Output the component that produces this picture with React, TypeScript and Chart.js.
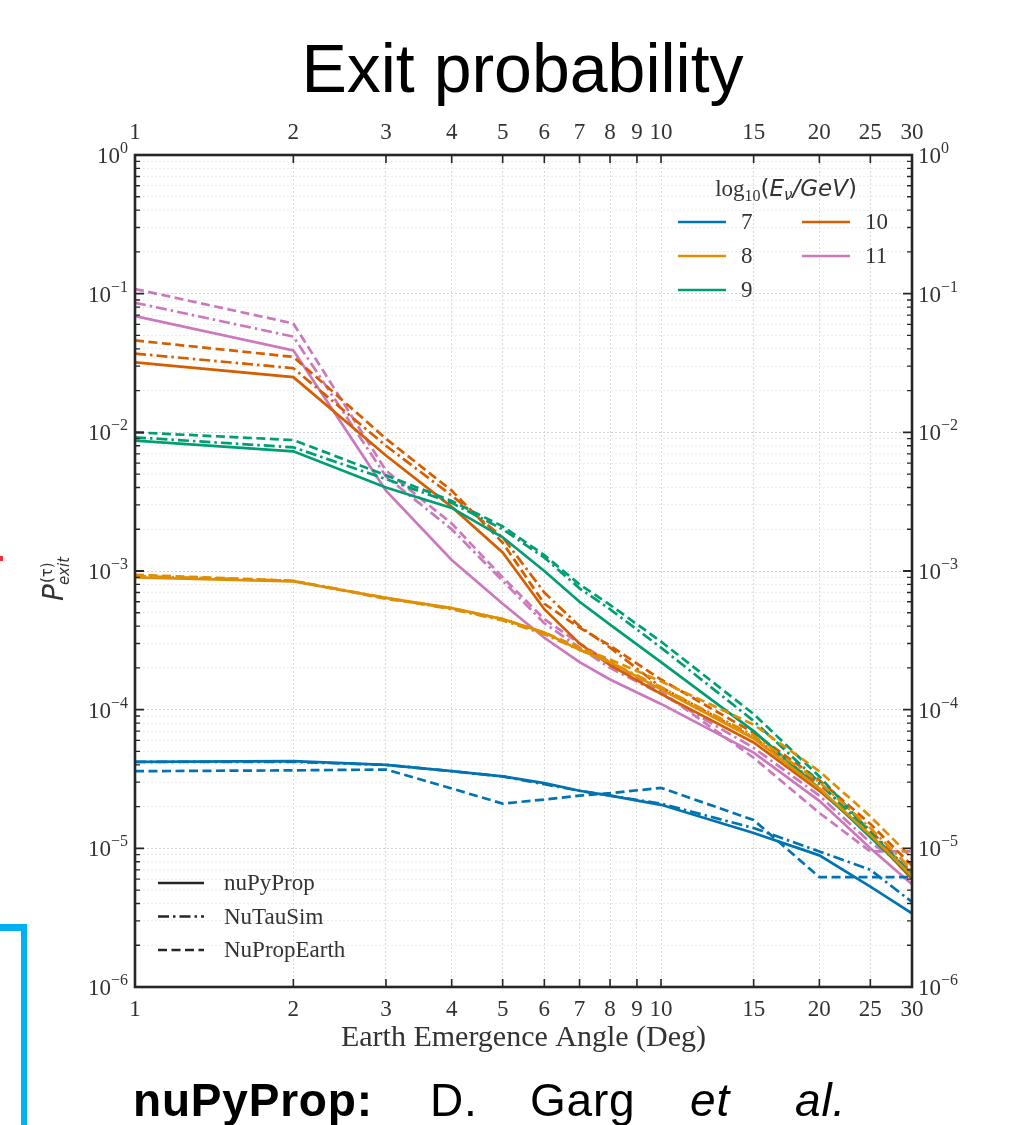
import React, { useEffect, useRef } from 'react';
import { Chart, registerables } from 'chart.js';

Chart.register(...registerables);

// ---------- data ----------
const angles = [1, 2, 3, 4, 5, 6, 7, 8, 10, 15, 20, 25, 30];
const energyLabels = ['7', '8', '9', '10', '11'];
const modelLabels = ['nuPyProp', 'NuTauSim', 'NuPropEarth'];
const xTickValues = [1, 2, 3, 4, 5, 6, 7, 8, 9, 10, 15, 20, 25, 30];
const yDecadeExponents = [0, -1, -2, -3, -4, -5, -6];

// log10(E/GeV) = 7
const nuPyProp7 = [4.2e-5, 4.25e-5, 4.0e-5, 3.6e-5, 3.3e-5, 2.95e-5, 2.6e-5, 2.4e-5, 2.06e-5, 1.29e-5, 8.9e-6, 5.3e-6, 3.4e-6];
const nuTauSim7 = [4.2e-5, 4.2e-5, 4.0e-5, 3.6e-5, 3.3e-5, 2.9e-5, 2.6e-5, 2.4e-5, 2.1e-5, 1.4e-5, 9.5e-6, 7.0e-6, 4.1e-6];
const nuPropEarth7 = [3.6e-5, 3.65e-5, 3.7e-5, 2.7e-5, 2.1e-5, 2.25e-5, 2.4e-5, 2.5e-5, 2.73e-5, 1.6e-5, 6.2e-6, 6.2e-6, 6.2e-6];
// 8
const nuPyProp8 = [9.0e-4, 8.4e-4, 6.4e-4, 5.4e-4, 4.5e-4, 3.6e-4, 2.7e-4, 2.2e-4, 1.4e-4, 6.2e-5, 2.7e-5, 1.25e-5, 6.3e-6];
const nuTauSim8 = [9.2e-4, 8.5e-4, 6.4e-4, 5.3e-4, 4.4e-4, 3.5e-4, 2.7e-4, 2.2e-4, 1.45e-4, 6.5e-5, 3.0e-5, 1.4e-5, 7.0e-6];
const nuPropEarth8 = [9.4e-4, 8.5e-4, 6.3e-4, 5.4e-4, 4.5e-4, 3.6e-4, 2.8e-4, 2.3e-4, 1.6e-4, 7.8e-5, 3.6e-5, 1.7e-5, 8.5e-6];
// 9
const nuPyProp9 = [8.7e-3, 7.3e-3, 4.0e-3, 2.85e-3, 1.75e-3, 1.0e-3, 6.0e-4, 4.1e-4, 2.2e-4, 7.0e-5, 2.7e-5, 1.2e-5, 6.3e-6];
const nuTauSim9 = [9.2e-3, 7.8e-3, 4.6e-3, 3.1e-3, 2.0e-3, 1.25e-3, 7.5e-4, 5.3e-4, 2.8e-4, 8.3e-5, 3.0e-5, 1.25e-5, 6.3e-6];
const nuPropEarth9 = [1.0e-2, 8.8e-3, 4.9e-3, 3.2e-3, 2.1e-3, 1.3e-3, 8.0e-4, 5.7e-4, 3.1e-4, 9.3e-5, 3.3e-5, 1.3e-5, 6.5e-6];
// 10
const nuPyProp10 = [3.2e-2, 2.5e-2, 6.8e-3, 2.9e-3, 1.36e-3, 5.3e-4, 3.0e-4, 2.1e-4, 1.3e-4, 5.8e-5, 2.6e-5, 1.25e-5, 6.0e-6];
const nuTauSim10 = [3.7e-2, 2.9e-2, 8.0e-3, 3.5e-3, 1.75e-3, 7.0e-4, 4.0e-4, 2.8e-4, 1.45e-4, 6.3e-5, 2.9e-5, 1.35e-5, 6.5e-6];
const nuPropEarth10 = [4.6e-2, 3.5e-2, 9.0e-3, 3.8e-3, 1.6e-3, 5.8e-4, 3.9e-4, 2.9e-4, 1.65e-4, 6.8e-5, 3.1e-5, 1.5e-5, 7.5e-6];
// 11
const nuPyProp11 = [6.9e-2, 3.9e-2, 3.8e-3, 1.2e-3, 5.8e-4, 3.3e-4, 2.2e-4, 1.65e-4, 1.1e-4, 4.9e-5, 2.2e-5, 1.0e-5, 5.5e-6];
const nuTauSim11 = [8.6e-2, 4.9e-2, 4.8e-3, 2.0e-3, 8.5e-4, 4.2e-4, 2.8e-4, 2.0e-4, 1.3e-4, 5.3e-5, 2.4e-5, 1.1e-5, 7.0e-6];
const nuPropEarth11 = [1.08e-1, 6.1e-2, 5.3e-3, 2.2e-3, 9.0e-4, 4.5e-4, 3.0e-4, 2.2e-4, 1.35e-4, 4.5e-5, 1.8e-5, 9.5e-6, 9.5e-6];

const seriesByEnergy = [
  [nuPyProp7, nuTauSim7, nuPropEarth7],
  [nuPyProp8, nuTauSim8, nuPropEarth8],
  [nuPyProp9, nuTauSim9, nuPropEarth9],
  [nuPyProp10, nuTauSim10, nuPropEarth10],
  [nuPyProp11, nuTauSim11, nuPropEarth11],
];

// ---------- styles ----------
const energyColors = ['#0173B2', '#DE8F05', '#029E73', '#D55E00', '#CC78BC'];
const modelDashes = [[], [11, 4, 2.5, 4], [9, 4.5]];
const SERIF = '"Liberation Serif", "Times New Roman", serif';
const SANS = '"DejaVu Sans", sans-serif';
const INK = '#262626';

function drawPieces(ctx: CanvasRenderingContext2D, pieces: any[], x: number, baseline: number, align: string) {
  let total = 0;
  pieces.forEach((p) => { ctx.font = p.font; total += ctx.measureText(p.text).width; });
  let xx = align === 'center' ? x - total / 2 : align === 'right' ? x - total : x;
  ctx.textAlign = 'left';
  ctx.textBaseline = 'alphabetic';
  pieces.forEach((p) => {
    ctx.font = p.font;
    ctx.fillText(p.text, xx, baseline + (p.dy || 0));
    xx += ctx.measureText(p.text).width;
  });
}

const decorPlugin = {
  id: 'decor',
  afterDraw(chart: any) {
    const { ctx, chartArea, scales } = chart;
    const { left, right, top, bottom } = chartArea;
    const xs = scales.x;
    const ys = scales.y;
    ctx.save();
    ctx.strokeStyle = INK;
    ctx.fillStyle = INK;

    // ticks (inward)
    ctx.lineWidth = 1.6;
    xTickValues.forEach((v) => {
      const px = xs.getPixelForValue(v);
      ctx.beginPath();
      ctx.moveTo(px, bottom); ctx.lineTo(px, bottom - 8);
      ctx.moveTo(px, top); ctx.lineTo(px, top + 8);
      ctx.stroke();
    });
    yDecadeExponents.forEach((e) => {
      for (let m = 1; m <= 9; m++) {
        if (e === 0 && m > 1) continue;
        const py = ys.getPixelForValue(m * Math.pow(10, e));
        const len = m === 1 ? 9 : 5;
        ctx.lineWidth = m === 1 ? 1.8 : 1.3;
        ctx.beginPath();
        ctx.moveTo(left, py); ctx.lineTo(left + len, py);
        ctx.moveTo(right, py); ctx.lineTo(right - len, py);
        ctx.stroke();
      }
    });

    // frame
    ctx.lineWidth = 2.6;
    ctx.strokeRect(left, top, right - left, bottom - top);

    // x tick labels
    ctx.fillStyle = '#333';
    ctx.font = `23px ${SERIF}`;
    ctx.textAlign = 'center';
    ctx.textBaseline = 'alphabetic';
    xTickValues.forEach((v) => {
      const px = xs.getPixelForValue(v);
      ctx.fillText(String(v), px, bottom + 29);
      ctx.fillText(String(v), px, top - 16);
    });

    // y tick labels
    yDecadeExponents.forEach((e) => {
      const py = ys.getPixelForValue(Math.pow(10, e));
      const exp = e === 0 ? '0' : '\u2212' + String(-e);
      const pieces = [
        { text: '10', font: `23px ${SERIF}` },
        { text: exp, font: `16px ${SERIF}`, dy: -10 },
      ];
      drawPieces(ctx, pieces, left - 7, py + 8, 'right');
      drawPieces(ctx, pieces, right + 6, py + 8, 'left');
    });

    // x title
    ctx.font = `30px ${SERIF}`;
    ctx.textAlign = 'center';
    ctx.fillStyle = '#333';
    ctx.fillText('Earth Emergence Angle (Deg)', (left + right) / 2, bottom + 59);

    // y title
    ctx.save();
    ctx.translate(left - 72, 601);
    ctx.rotate(-Math.PI / 2);
    ctx.textAlign = 'left';
    ctx.font = `italic 28px ${SANS}`;
    ctx.fillText('P', 0, 0);
    const pw = ctx.measureText('P').width;
    ctx.font = `15px ${SANS}`;
    ctx.fillText('(\u03c4)', pw + 1, -11);
    ctx.font = `italic 15px ${SANS}`;
    ctx.fillText('exit', pw - 1, 6);
    ctx.restore();

    // energy legend
    drawPieces(ctx, [
      { text: 'log', font: `23px ${SERIF}` },
      { text: '10', font: `16px ${SERIF}`, dy: 5 },
      { text: '(', font: `23px ${SANS}` },
      { text: 'E', font: `italic 23px ${SANS}` },
      { text: '\u03bd', font: `italic 15px ${SANS}`, dy: 4 },
      { text: '/GeV', font: `italic 23px ${SANS}` },
      { text: ')', font: `23px ${SANS}` },
    ], 786, 196, 'center');
    const legendPos = [
      [678, 222], [678, 256], [678, 290], [802, 222], [802, 256],
    ];
    energyLabels.forEach((lab, i) => {
      const [lx, ly] = legendPos[i];
      ctx.strokeStyle = energyColors[i];
      ctx.lineWidth = 2.6;
      ctx.setLineDash([]);
      ctx.beginPath();
      ctx.moveTo(lx, ly); ctx.lineTo(lx + 48, ly);
      ctx.stroke();
      ctx.fillStyle = '#333';
      ctx.font = `23px ${SERIF}`;
      ctx.textAlign = 'left';
      ctx.textBaseline = 'middle';
      ctx.fillText(lab, lx + 63, ly + 1);
    });

    // model legend
    modelLabels.forEach((lab, i) => {
      const ly = 883 + i * 33.5;
      ctx.strokeStyle = INK;
      ctx.lineWidth = 2.6;
      ctx.setLineDash(modelDashes[i]);
      ctx.beginPath();
      ctx.moveTo(158, ly); ctx.lineTo(204, ly);
      ctx.stroke();
      ctx.setLineDash([]);
      ctx.fillStyle = '#333';
      ctx.font = `23px ${SERIF}`;
      ctx.textAlign = 'left';
      ctx.textBaseline = 'middle';
      ctx.fillText(lab, 224, ly + 1);
    });
    ctx.restore();
  },
};

export default function App() {
  const canvasRef = useRef<HTMLCanvasElement | null>(null);

  useEffect(() => {
    if (!canvasRef.current) return;
    const datasets: any[] = [];
    seriesByEnergy.forEach((models, ei) => {
      models.forEach((vals, mi) => {
        datasets.push({
          label: `${modelLabels[mi]} ${energyLabels[ei]}`,
          data: angles.map((a, k) => ({ x: a, y: vals[k] })),
          borderColor: energyColors[ei],
          backgroundColor: energyColors[ei],
          borderWidth: 2.7,
          borderDash: modelDashes[mi],
          pointRadius: 0,
          fill: false,
          tension: 0,
        });
      });
    });

    const chart = new Chart(canvasRef.current, {
      type: 'line',
      data: { datasets },
      options: {
        responsive: false,
        animation: false,
        layout: { padding: { left: 135, right: 105, top: 155, bottom: 138 } },
        plugins: { legend: { display: false }, tooltip: { enabled: false } },
        scales: {
          x: {
            type: 'logarithmic',
            min: 1,
            max: 30,
            afterBuildTicks: (s: any) => { s.ticks = xTickValues.map((v) => ({ value: v })); },
            ticks: { display: false },
            grid: { drawTicks: false, color: '#dadada', lineWidth: 1 },
            border: { display: false, dash: [2, 2] },
          },
          y: {
            type: 'logarithmic',
            min: 1e-6,
            max: 1,
            afterBuildTicks: (s: any) => {
              const t: any[] = [];
              yDecadeExponents.forEach((e) => {
                for (let m = 1; m <= 9; m++) {
                  if (e === 0 && m > 1) continue;
                  t.push({ value: m * Math.pow(10, e), major: m === 1 });
                }
              });
              s.ticks = t;
            },
            ticks: { display: false },
            grid: {
              drawTicks: false,
              lineWidth: 1,
              color: (c: any) => {
                const v = c.tick ? c.tick.value : 1;
                const l = Math.log10(v);
                return Math.abs(l - Math.round(l)) < 1e-6 ? '#d2d2d2' : '#ececec';
              },
            },
            border: { display: false, dash: [2, 2] },
          },
        },
      },
      plugins: [decorPlugin],
    } as any);
    return () => chart.destroy();
  }, []);

  return (
    <div style={{ position: 'absolute', left: 0, top: 0, width: 1017, height: 1125, background: '#fff', overflow: 'hidden' }}>
      <canvas ref={canvasRef} width={1017} height={1125} style={{ position: 'absolute', left: 0, top: 0, width: 1017, height: 1125 }} />
      <div style={{ position: 'absolute', left: 0, width: 1017, top: 28, textAlign: 'center', paddingLeft: 28, boxSizing: 'border-box', font: '68px "Liberation Sans", Arial, sans-serif', color: '#000', lineHeight: '80px', whiteSpace: 'nowrap' }}>
        Exit probability
      </div>
      <div style={{ position: 'absolute', left: 0, top: 924, width: 27, height: 7, background: '#00B0F0' }} />
      <div style={{ position: 'absolute', left: 21, top: 924, width: 6, height: 201, background: '#00B0F0' }} />
      <div style={{ position: 'absolute', left: 0, top: 556, width: 3, height: 5, background: '#e33' }} />
      {[
        { t: 'nuPyProp:', x: 133, w: 'bold', s: 'normal' },
        { t: 'D.', x: 430, w: 'normal', s: 'normal' },
        { t: 'Garg', x: 530, w: 'normal', s: 'normal' },
        { t: 'et', x: 690, w: 'normal', s: 'italic' },
        { t: 'al.', x: 795, w: 'normal', s: 'italic' },
      ].map((p) => (
        <div key={p.t} style={{ position: 'absolute', left: p.x, top: 1074, fontFamily: '"Liberation Sans", Arial, sans-serif', fontSize: 46, letterSpacing: '0.8px', fontWeight: p.w as any, fontStyle: p.s as any, lineHeight: '52px', color: '#000', whiteSpace: 'nowrap' }}>
          {p.t}
        </div>
      ))}
    </div>
  );
}
